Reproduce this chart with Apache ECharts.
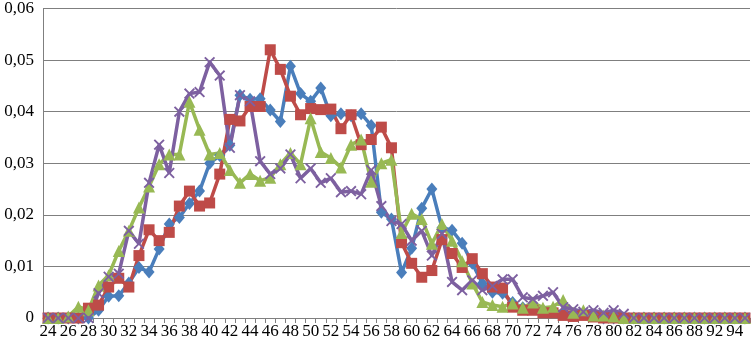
<!DOCTYPE html>
<html>
<head>
<meta charset="utf-8">
<script src="https://cdn.jsdelivr.net/npm/echarts@6/dist/echarts.min.js"></script>
<style>
  html, body { margin: 0; padding: 0; background: #fff; }
  #chart { width: 752px; height: 344px; }
</style>
</head>
<body>
<div id="chart"></div>
<script>
// categories (ages) - note 90/91 are absent in the source axis
var categories = ['24','25','26','27','28','29','30','31','32','33','34','35','36','37','38','39',
  '40','41','42','43','44','45','46','47','48','49','50','51','52','53','54','55','56','57','58','59',
  '60','61','62','63','64','65','66','67','68','69','70','71','72','73','74','75','76','77','78','79',
  '80','81','82','83','84','85','86','87','88','89','92','93','94','95'];

var blueData = [0,0,0,0,0,0.0015,0.0042,0.0043,0.0068,0.0098,0.0089,0.0134,0.0182,0.0195,0.0222,0.0246,
  0.0300,0.0315,0.0335,0.0432,0.0424,0.0425,0.0403,0.0381,0.0488,0.0435,0.0420,0.0446,0.0392,0.0396,0.0392,0.0396,
  0.0373,0.0205,0.0192,0.0088,0.0135,0.0213,0.0250,0.0175,0.0170,0.0145,0.0106,0.0067,0.0050,0.0048,0.0030,0.0020,
  0.0020,0.0015,0.0015,0.0010,0.0005,0.0008,0.0005,0,0,0,0,0,0,0,0,0,0,0,0,0,0,0];

var redData = [0,0,0,0,0.0019,0.0025,0.0060,0.0077,0.0060,0.0121,0.0171,0.0150,0.0166,0.0217,0.0246,0.0217,
  0.0223,0.0279,0.0385,0.0382,0.0410,0.0410,0.0520,0.0482,0.0430,0.0394,0.0406,0.0404,0.0405,0.0367,0.0394,0.0336,
  0.0346,0.0370,0.0330,0.0146,0.0106,0.0079,0.0092,0.0152,0.0125,0.0098,0.0115,0.0086,0.0060,0.0058,0.0021,0.0015,
  0.0015,0.0010,0.0010,0.0005,0.0003,0.0005,0.0002,0,0,0,0,0,0,0,0,0,0,0,0,0,0,0];

var greenData = [0,0,0.0003,0.0022,0.0015,0.0063,0.0083,0.0130,0.0169,0.0214,0.0255,0.0298,0.0317,0.0317,0.0419,0.0365,
  0.0317,0.0320,0.0287,0.0262,0.0279,0.0266,0.0272,0.0298,0.0320,0.0298,0.0387,0.0322,0.0310,0.0292,0.0336,0.0346,
  0.0264,0.0300,0.0307,0.0165,0.0202,0.0192,0.0144,0.0182,0.0150,0.0110,0.0067,0.0031,0.0025,0.0022,0.0028,0.0020,
  0.0030,0.0020,0.0022,0.0035,0.0010,0.0015,0.0005,0.0005,0.0003,0,0,0,0,0,0,0,0,0,0,0,0,0];

var purpleData = [0,0,0,0,0,0.0048,0.0080,0.0086,0.0169,0.0144,0.0262,0.0336,0.0281,0.0400,0.0435,0.0438,
  0.0496,0.0470,0.0330,0.0432,0.0420,0.0304,0.0279,0.0290,0.0317,0.0271,0.0290,0.0262,0.0271,0.0244,0.0246,0.0240,
  0.0287,0.0217,0.0188,0.0182,0.0150,0.0169,0.0121,0.0163,0.0070,0.0054,0.0073,0.0054,0.0062,0.0075,0.0075,0.0040,
  0.0037,0.0043,0.0050,0.0021,0.0017,0.0012,0.0015,0.0010,0.0015,0.0008,0,0,0,0,0,0,0,0,0,0,0,0];

var yTicks = ['0', '0,01', '0,02', '0,03', '0,04', '0,05', '0,06'];

// thin X shape used as marker for the 4th series
var crossSymbol = 'path://M0,1.2L1.2,0L5,3.8L8.8,0L10,1.2L6.2,5L10,8.8L8.8,10L5,6.2L1.2,10L0,8.8L3.8,5Z';

function makeSeries(name, data, color, symbol, size) {
  return {
    name: name,
    type: 'line',
    data: data,
    symbol: symbol,
    symbolSize: size,
    showAllSymbol: true,
    lineStyle: { color: color, width: 3.5 },
    itemStyle: { color: color },
    animation: false
  };
}

var chart = echarts.init(document.getElementById('chart'));
var option = {
  backgroundColor: '#fff',
  grid: { left: 43, right: 2, top: 6, bottom: 26 },
  xAxis: {
    type: 'category',
    data: categories,
    boundaryGap: true,
    axisLine: { lineStyle: { color: '#7f7f7f', width: 1 } },
    axisTick: { show: true, interval: 0, length: 5, lineStyle: { color: '#7f7f7f' } },
    axisLabel: {
      interval: 1,
      margin: 5,
      color: '#000',
      fontFamily: 'Liberation Serif',
      fontSize: 17
    },
    splitLine: { show: false }
  },
  yAxis: {
    type: 'value',
    min: 0,
    max: 0.06,
    interval: 0.01,
    axisLine: { show: true, lineStyle: { color: '#7f7f7f' } },
    axisTick: { show: false },
    axisLabel: {
      margin: 9,
      color: '#000',
      fontFamily: 'Liberation Serif',
      fontSize: 17,
      formatter: function (v) { return yTicks[Math.round(v * 100)]; }
    },
    splitLine: { lineStyle: { color: '#7f7f7f', width: 1 } }
  },
  series: [
    makeSeries('s1', blueData, '#4A7EBB', 'diamond', [11, 13]),
    makeSeries('s2', redData, '#BE4B48', 'rect', 11),
    makeSeries('s3', greenData, '#98B954', 'triangle', 12),
    makeSeries('s4', purpleData, '#7D60A0', crossSymbol, 11)
  ]
};
chart.setOption(option);
</script>
</body>
</html>
